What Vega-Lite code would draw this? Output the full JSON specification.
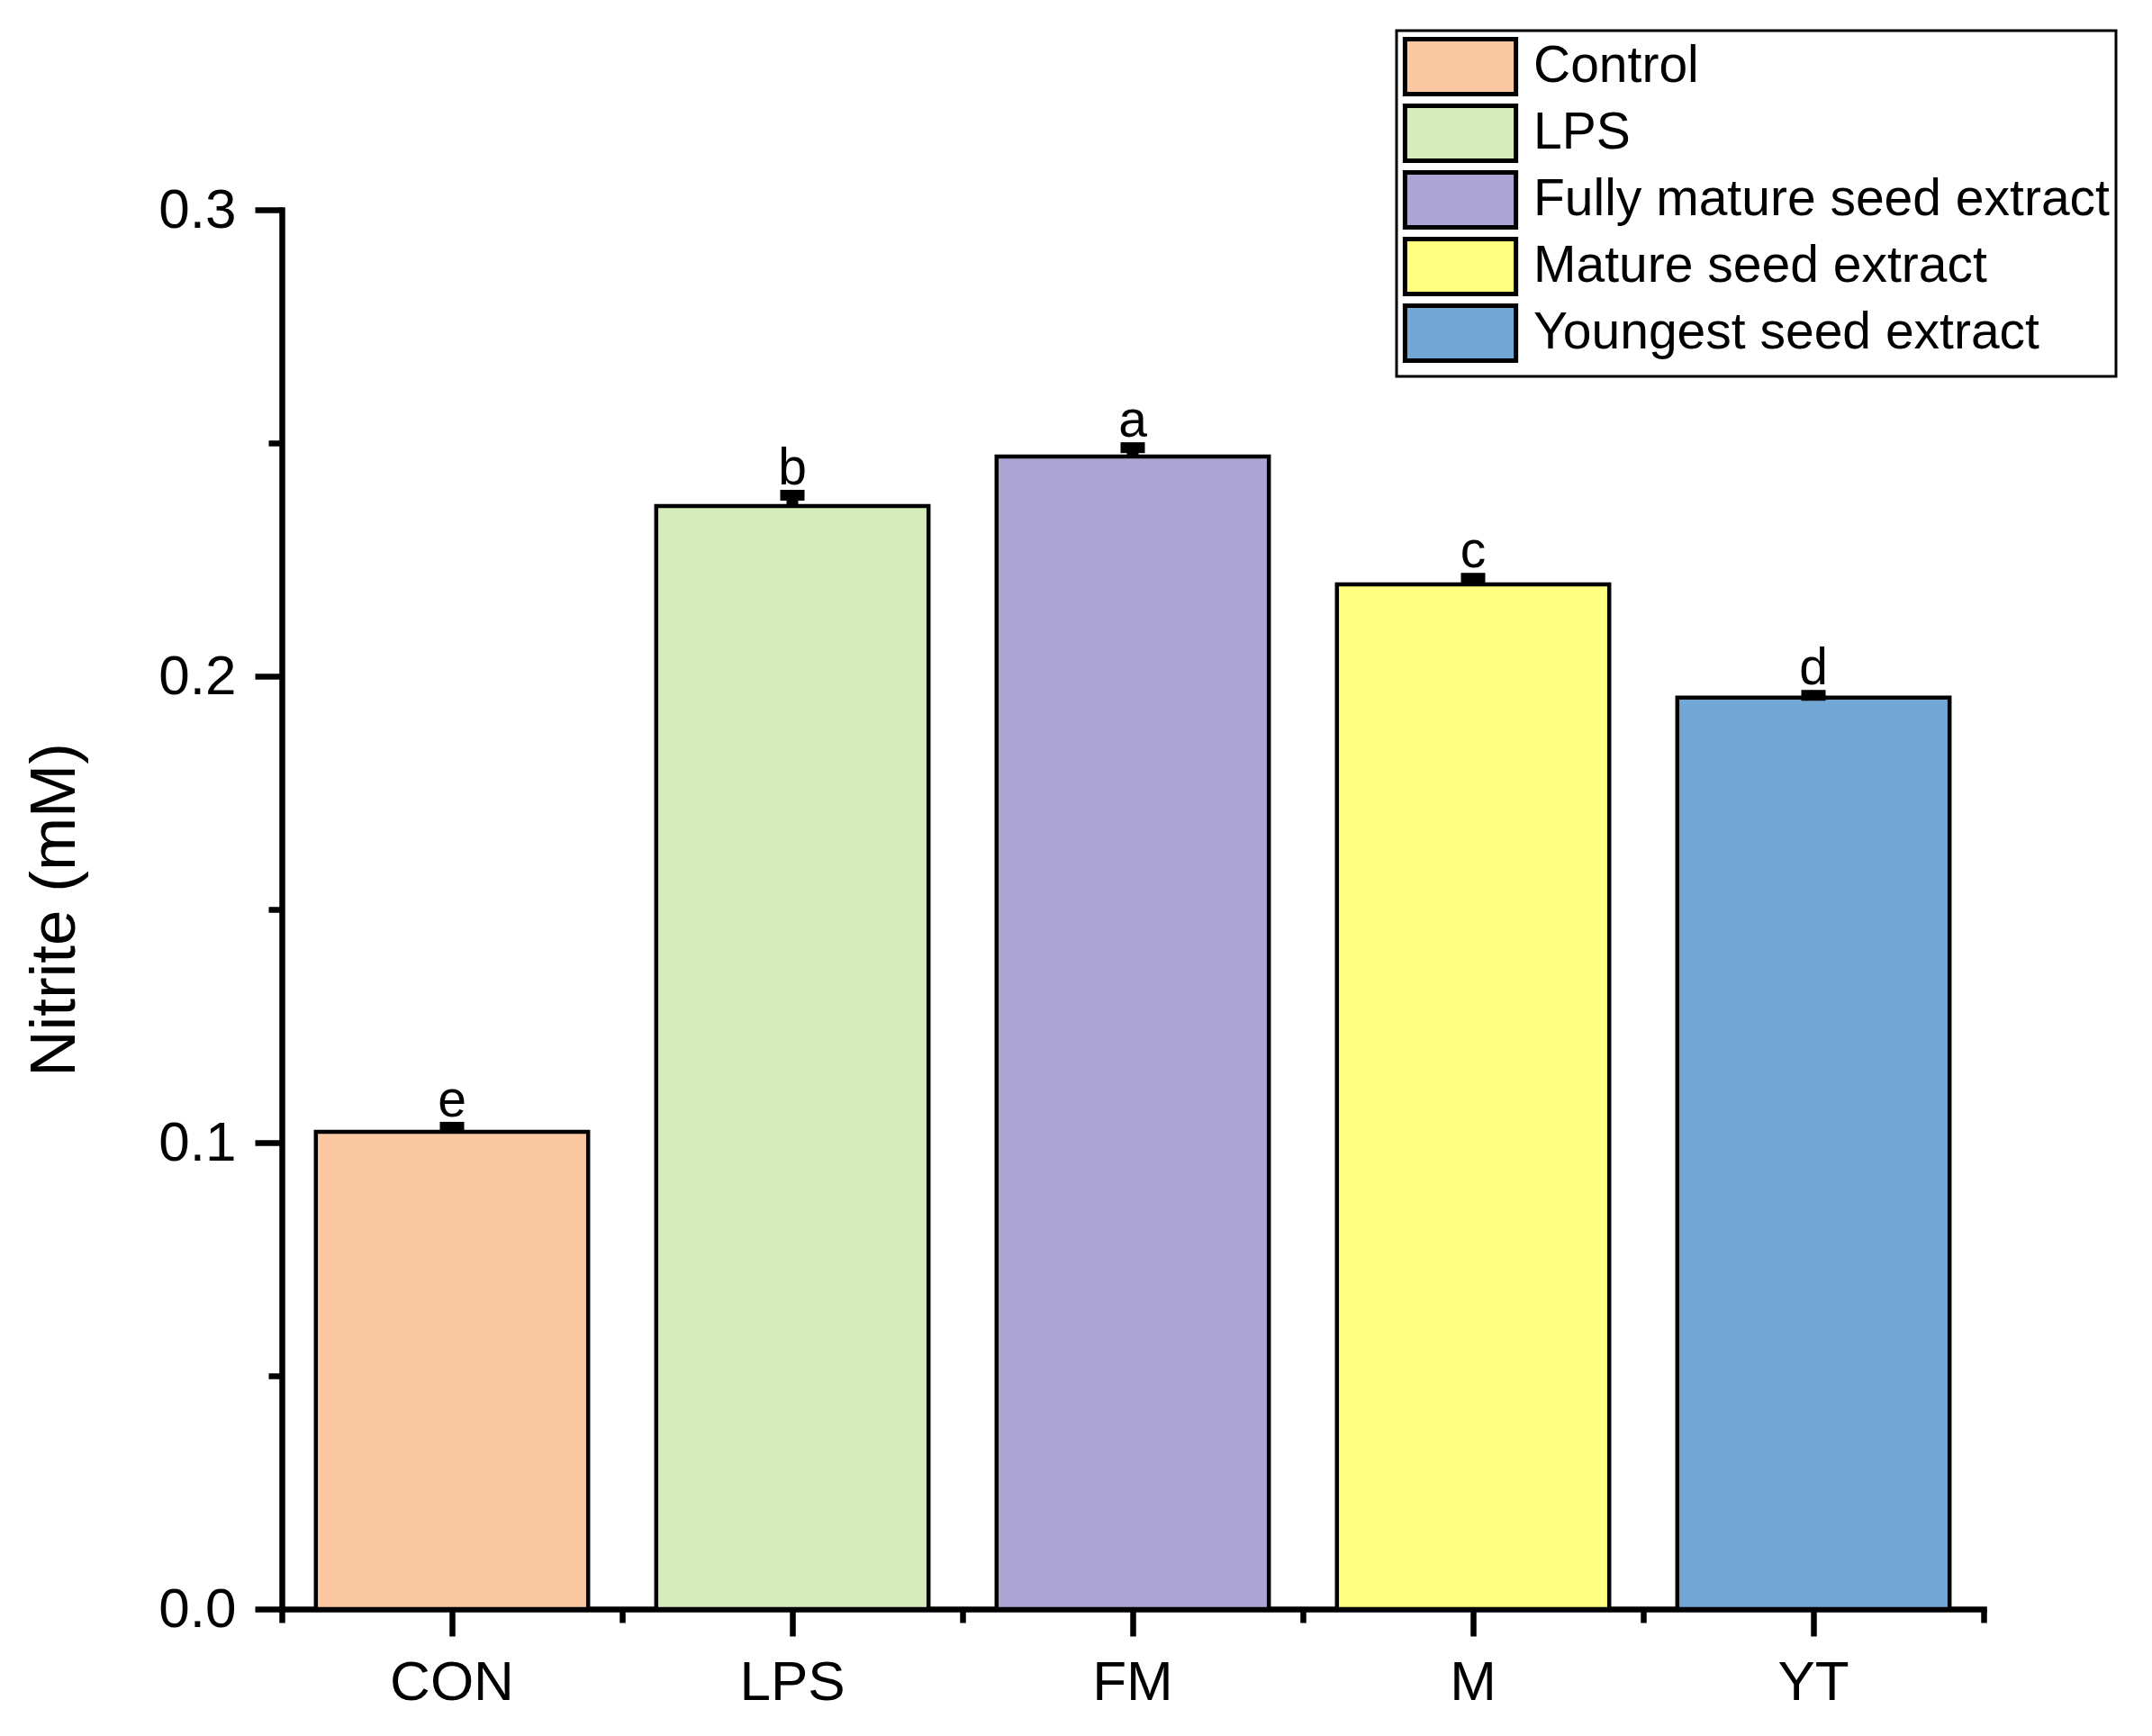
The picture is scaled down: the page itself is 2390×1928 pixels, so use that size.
{
  "$schema": "https://vega.github.io/schema/vega-lite/v6.json",
  "autosize": {"type": "none"},
  "padding": {"left": 313, "top": 233, "right": 187, "bottom": 141},
  "width": 1890,
  "height": 1554,
  "background": "white",
  "data": {
    "values": [
      {"cat": "CON", "group": "Control", "nitrite": 0.1023, "hi": 0.1033, "letter": "e"},
      {"cat": "LPS", "group": "LPS", "nitrite": 0.2365, "hi": 0.2388, "letter": "b"},
      {"cat": "FM", "group": "Fully mature seed extract", "nitrite": 0.2471, "hi": 0.2490, "letter": "a"},
      {"cat": "M", "group": "Mature seed extract", "nitrite": 0.2197, "hi": 0.2210, "letter": "c"},
      {"cat": "YT", "group": "Youngest seed extract", "nitrite": 0.1954, "hi": 0.1959, "letter": "d"}
    ]
  },
  "resolve": {"axis": {"x": "independent", "y": "independent"}},
  "layer": [
    {
      "mark": {"type": "bar", "width": {"band": 0.8}, "stroke": "black", "strokeWidth": 4.5, "opacity": 1},
      "encoding": {
        "x": {
          "field": "cat", "type": "nominal", "sort": null,
          "scale": {"paddingInner": 0, "paddingOuter": 0},
          "axis": {
            "orient": "bottom", "title": null, "labelAngle": 0,
            "labelFontSize": 62, "labelPadding": 21,
            "tickSize": 30, "tickWidth": 6.5,
            "domainWidth": 6.5, "domainCap": "square"
          }
        },
        "y": {
          "field": "nitrite", "type": "quantitative",
          "scale": {"domain": [0, 0.3], "nice": false, "zero": true},
          "axis": {
            "orient": "left", "values": [0, 0.1, 0.2, 0.3], "format": ".1f",
            "labelFontSize": 62, "labelPadding": 21,
            "tickSize": 30, "tickWidth": 6.5,
            "domainWidth": 6.5, "domainCap": "square",
            "title": "Nitrite (mM)", "titleFontSize": 71, "titleFontWeight": "normal",
            "titleX": -231, "titleY": 777, "titleAngle": 270,
            "titleAlign": "center", "titleBaseline": "alphabetic"
          }
        },
        "color": {
          "field": "group", "type": "nominal",
          "scale": {
            "domain": ["Control", "LPS", "Fully mature seed extract", "Mature seed extract", "Youngest seed extract"],
            "range": ["#FBC8A2", "#D6ECBB", "#ACA5D4", "#FFFF80", "#72A6D4"]
          },
          "legend": {
            "title": null, "orient": "none", "legendX": 1238, "legendY": -199,
            "strokeColor": "black", "padding": 7,
            "symbolType": "M-2.02,-1H2.02V1H-2.02Z", "symbolSize": 3721,
            "symbolStrokeColor": "black", "symbolStrokeWidth": 5, "symbolOpacity": 1,
            "symbolOffset": 31, "labelOffset": 48, "rowPadding": -16,
            "labelFontSize": 57, "labelLimit": 0, "labelBaseline": "middle",
            "encode": {"legend": {"update": {"strokeWidth": {"value": 3}}}}
          }
        }
      }
    },
    {
      "mark": {"type": "rule", "strokeWidth": 13, "color": "black"},
      "encoding": {
        "x": {
          "field": "cat", "type": "nominal", "sort": null,
          "axis": {
            "orient": "bottom", "title": null, "labels": false, "domain": false,
            "tickBand": "extent", "tickSize": 15, "tickWidth": 6.5
          }
        },
        "y": {
          "field": "nitrite", "type": "quantitative",
          "axis": {
            "orient": "left", "title": null, "labels": false, "domain": false,
            "values": [0.05, 0.15, 0.25], "tickSize": 15, "tickWidth": 6.5
          }
        },
        "y2": {"field": "hi"}
      }
    },
    {
      "mark": {"type": "tick", "thickness": 12, "size": 27, "color": "black", "opacity": 1},
      "encoding": {
        "x": {"field": "cat", "type": "nominal", "sort": null, "axis": null},
        "y": {"field": "hi", "type": "quantitative", "axis": null}
      }
    },
    {
      "mark": {"type": "text", "fontSize": 57, "baseline": "alphabetic", "dy": -12, "color": "black"},
      "encoding": {
        "x": {"field": "cat", "type": "nominal", "sort": null, "axis": null},
        "y": {"field": "hi", "type": "quantitative", "axis": null},
        "text": {"field": "letter"}
      }
    }
  ],
  "config": {
    "font": "Liberation Sans",
    "view": {"stroke": null},
    "axis": {
      "grid": false, "domainColor": "black", "tickColor": "black",
      "labelColor": "black", "titleColor": "black", "labelFont": "Liberation Sans", "titleFont": "Liberation Sans"
    },
    "legend": {"labelFont": "Liberation Sans", "labelColor": "black"}
  }
}
